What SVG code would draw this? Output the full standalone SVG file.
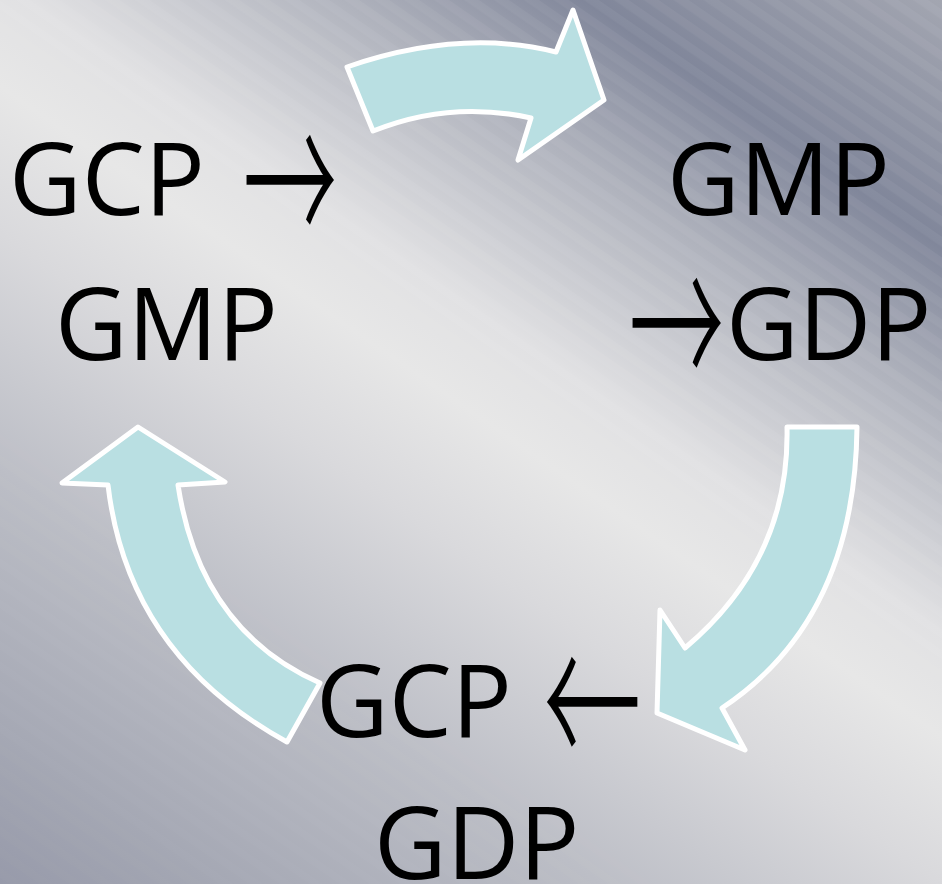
<svg xmlns="http://www.w3.org/2000/svg" width="942" height="884" viewBox="0 0 942 884">
  <defs>
    <linearGradient id="bg" gradientUnits="userSpaceOnUse" x1="0" y1="884" x2="717" y2="-155">
      <stop offset="0" stop-color="#979aaa"/>
      <stop offset="0.1" stop-color="#a5a8b4"/>
      <stop offset="0.27" stop-color="#bcbec6"/>
      <stop offset="0.424" stop-color="#d9d9dc"/>
      <stop offset="0.52" stop-color="#e7e7e7"/>
      <stop offset="0.59" stop-color="#e1e1e3"/>
      <stop offset="0.73" stop-color="#b0b3bd"/>
      <stop offset="0.84" stop-color="#80869a"/>
      <stop offset="1" stop-color="#a3a6b1"/>
    </linearGradient>
    <linearGradient id="stripeFade" gradientUnits="userSpaceOnUse" x1="0" y1="884" x2="717" y2="-155">
      <stop offset="0" stop-color="#ffffff" stop-opacity="0.25"/>
      <stop offset="0.5" stop-color="#ffffff" stop-opacity="0.35"/>
      <stop offset="0.62" stop-color="#ffffff" stop-opacity="1"/>
      <stop offset="1" stop-color="#ffffff" stop-opacity="1"/>
    </linearGradient>
    <mask id="stripeMask" maskUnits="userSpaceOnUse" x="0" y="0" width="942" height="884">
      <rect width="942" height="884" fill="url(#stripeFade)"/>
    </mask>
    <pattern id="stripes" width="40" height="17" patternUnits="userSpaceOnUse" patternTransform="rotate(34.6)">
      <rect x="0" y="0" width="40" height="8.5" fill="#ffffff" fill-opacity="0.05"/>
    </pattern>
    <style>
      .lbl { font-family: "Open Sans", "Noto Sans", "Liberation Sans", sans-serif; font-size: 100px; fill: #000000; }
      .arw { font-family: "Noto Sans CJK JP", "DejaVu Sans", sans-serif; font-size: 150px; font-weight: 300; fill: #000000; }
      .block { fill: #b9dfe2; stroke: #ffffff; stroke-width: 5; stroke-linejoin: round; }
    </style>
  </defs>
  <rect width="942" height="884" fill="url(#bg)"/>
  <rect width="942" height="884" fill="url(#stripes)" mask="url(#stripeMask)"/>

  <g id="connectors">
    <path class="block" d="M347,67 Q460,28 556,52 L573,10 L604,100 L518,160 L531,118 Q450,100 373,131 Z"/>
    <path class="block" d="M787,427 L857,427 Q855,620 722,708 L745,750 L657,713 L660,610 L685,648 Q790,560 787,427 Z"/>
    <path class="block" d="M138,427 L225,482 L178,485 Q200,630 320,683 L287,742 Q128,655 108,485 L62,483 Z"/>
  </g>

  <g id="node-gcp-gmp">
    <text class="lbl" x="9" y="215">GCP</text>
    <text class="arw" transform="translate(242.7,254) scale(0.63,1.3)" x="0" y="0">→</text>
    <text class="lbl" x="55" y="360">GMP</text>
  </g>
  <g id="node-gmp-gdp">
    <text class="lbl" x="667" y="215">GMP</text>
    <text class="arw" transform="translate(628.7,397) scale(0.637,1.3)" x="0" y="0">→</text>
    <text class="lbl" x="726" y="360">GDP</text>
  </g>
  <g id="node-gcp-gdp">
    <text class="lbl" x="316" y="737">GCP</text>
    <text class="arw" transform="translate(543.6,776) scale(0.652,1.3)" x="0" y="0">←</text>
    <text class="lbl" x="374" y="879">GDP</text>
  </g>
</svg>
